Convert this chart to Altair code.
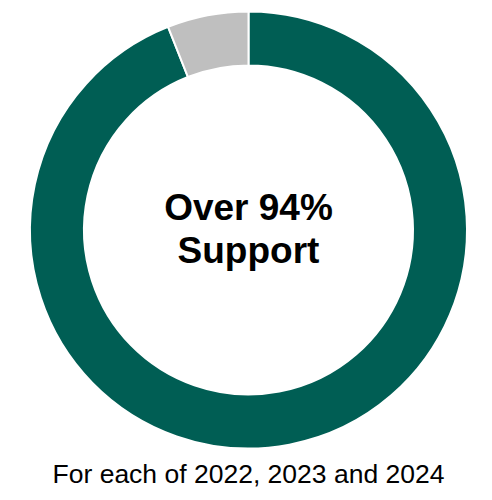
import altair as alt
import pandas as pd

categories = ["Support", "Other"]
values = [94, 6]
colors = ["#005E54", "#BFBFBF"]
center_lines = ["Over 94%", "Support"]
footer = "For each of 2022, 2023 and 2024"

df = pd.DataFrame({"category": categories, "value": values, "order": [0, 1]})

W, H = 476, 484
cx, cy = 240.5, 222

donut = alt.Chart(df).mark_arc(
    x=cx, y=cy, outerRadius=218.5, innerRadius=164.5,
    stroke="white", strokeWidth=2
).encode(
    theta=alt.Theta("value:Q", stack=True),
    order=alt.Order("order:Q"),
    color=alt.Color("category:N", scale=alt.Scale(domain=categories, range=colors), legend=None),
)

center = alt.Chart(pd.DataFrame({"t": [center_lines]})).mark_text(
    font="Liberation Sans", fontWeight="bold", fontSize=37, color="black",
    align="center", baseline="alphabetic", lineHeight=43
).encode(
    x=alt.value(cx), y=alt.value(212), text="t"
)

foot = alt.Chart(pd.DataFrame({"t": [footer]})).mark_text(
    font="Liberation Sans", fontSize=26.5, color="black",
    align="center", baseline="alphabetic"
).encode(
    x=alt.value(cx), y=alt.value(475), text="t:N"
)

chart = alt.layer(donut, center, foot).properties(
    width=W, height=H, padding=0, autosize=alt.AutoSizeParams(type="none")
).configure_view(stroke=None)

chart.save("out.html", embed_options={"renderer": "svg", "actions": False})
